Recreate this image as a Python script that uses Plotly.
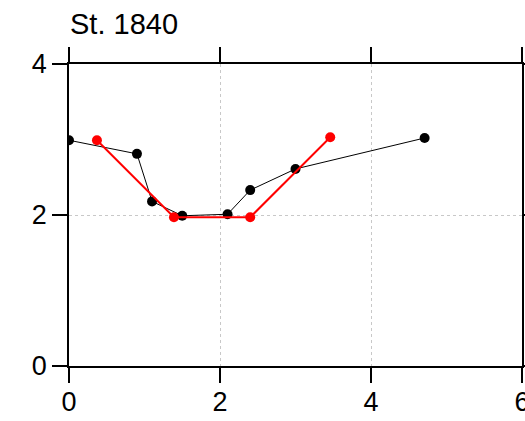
import plotly.graph_objects as go

title_text = "St. 1840"
black_x = [0.0, 0.9, 1.1, 1.5, 2.1, 2.4, 3.0, 4.71]
black_y = [2.99, 2.81, 2.18, 1.99, 2.01, 2.33, 2.61, 3.02]
red_x = [0.37, 1.39, 2.4, 3.46]
red_y = [2.99, 1.97, 1.97, 3.03]
x_ticks = [0, 2, 4, 6]
y_ticks = [0, 2, 4]

fig = go.Figure()
fig.add_trace(go.Scatter(x=black_x, y=black_y, mode="lines+markers",
                         line=dict(color="black", width=1),
                         marker=dict(color="black", size=10), showlegend=False))
fig.add_trace(go.Scatter(x=red_x, y=red_y, mode="lines+markers",
                         line=dict(color="red", width=2),
                         marker=dict(color="red", size=10), showlegend=False))

font = dict(family="Liberation Sans, Arial, sans-serif", size=27, color="black")
axis_common = dict(showline=True, linecolor="black", linewidth=1.5, mirror="allticks",
                   ticks="outside", ticklen=15, tickwidth=1.5, tickcolor="black",
                   showgrid=True, gridcolor="#c8c8c8", gridwidth=1, griddash="dot",
                   zeroline=False, tickfont=font, automargin=False,
                   ticklabeloverflow="allow")
fig.update_xaxes(range=[0, 6], tickvals=x_ticks, ticktext=[str(v) for v in x_ticks],
                 ticklabelstandoff=-4, **axis_common)
fig.update_yaxes(range=[0, 4], tickvals=y_ticks, ticktext=[str(v) for v in y_ticks],
                 ticklabelstandoff=0, **axis_common)

W, H = 525, 421
fig.update_layout(
    width=W, height=H,
    margin=dict(l=69, r=3, t=64, b=55, autoexpand=False),
    plot_bgcolor="white", paper_bgcolor="white",
    title=dict(text=title_text, font=dict(font, size=29), x=70/W, xanchor="left", automargin=False,
               xref="container", y=1 - 24/H, yanchor="middle", yref="container"),
)
fig.write_html("out.html", config={"displayModeBar": False},
               post_script="document.body.style.margin='0';document.body.style.overflow='hidden';")
